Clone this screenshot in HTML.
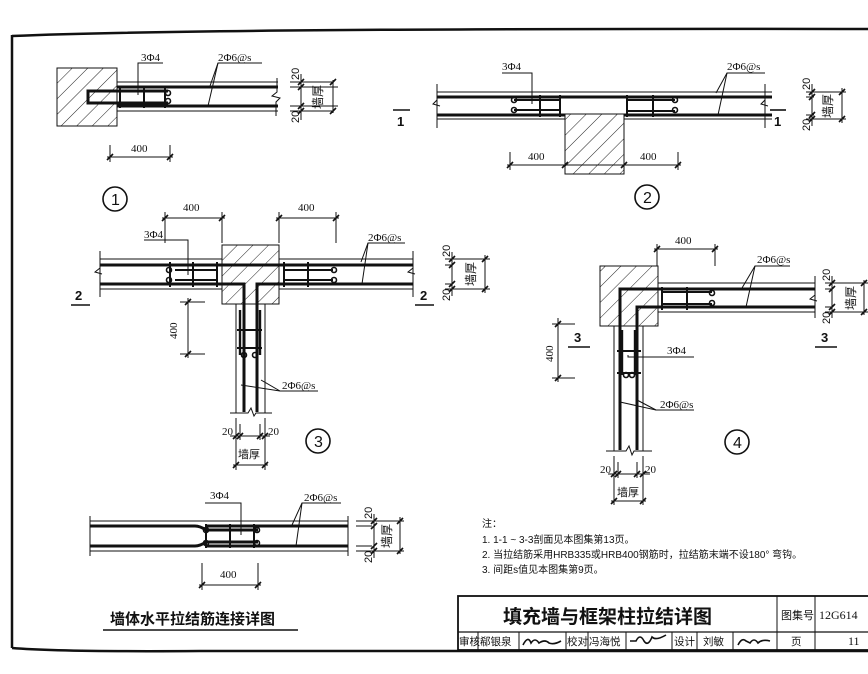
<!DOCTYPE html>
<html><head><meta charset="utf-8"><style>
html,body{margin:0;padding:0;background:#fff;}
svg{display:block;}
text{font-family:"Liberation Sans","Noto Sans CJK SC",sans-serif;fill:#111;}
.s{font-family:"Liberation Serif","Noto Serif CJK SC",serif;}
</style></head><body>
<svg width="868" height="674" viewBox="0 0 868 674" xmlns="http://www.w3.org/2000/svg">
<defs>
<pattern id="h" width="11" height="11" patternUnits="userSpaceOnUse" patternTransform="rotate(45)">
<rect width="11" height="11" fill="#fff"/><line x1="0" y1="0" x2="0" y2="11" stroke="#222" stroke-width="1"/>
</pattern>
<g id="tk"><line x1="-3" y1="3" x2="3" y2="-3" stroke="#111" stroke-width="1.6"/></g>
</defs>
<path d="M12,36 Q200,28 868,29" fill="none" stroke="#111" stroke-width="2.5"/>
<line x1="12" y1="35" x2="12" y2="648" stroke="#111" stroke-width="2.5"/>
<path d="M12,648 Q60,652 200,651 L868,651" fill="none" stroke="#111" stroke-width="2.5"/>

<g stroke="#111" fill="none" stroke-width="1">
<!-- Detail 1 -->
<rect x="57" y="68" width="60" height="58" fill="url(#h)"/>
<line x1="117" y1="82" x2="278" y2="82"/><line x1="117" y1="111" x2="278" y2="111"/>
<line x1="117" y1="87" x2="278" y2="87" stroke-width="3"/><line x1="117" y1="106" x2="278" y2="106" stroke-width="3"/>
<path d="M117,91 H88 V103 H168" stroke-width="3"/><line x1="117" y1="91" x2="168" y2="91" stroke-width="3"/>
<line x1="120" y1="86" x2="120" y2="108" stroke-width="2"/><line x1="144" y1="86" x2="144" y2="108" stroke-width="2"/><line x1="165" y1="86" x2="165" y2="108" stroke-width="2"/>
<circle cx="168" cy="93" r="2.5" stroke-width="1.6"/><circle cx="168" cy="101" r="2.5" stroke-width="1.6"/>
<path d="M277,78 V92 L272,96 L280,98 L276,102 V116"/>
<polyline points="138,95 138,63 163,63"/>
<polyline points="210,86 218,63 262,63"/><line x1="208" y1="106" x2="218" y2="63"/>
<line x1="110" y1="145" x2="110" y2="162"/><line x1="170" y1="145" x2="170" y2="162"/><line x1="107" y1="157" x2="173" y2="157"/>
<use href="#tk" x="110" y="157"/><use href="#tk" x="170" y="157"/>
<line x1="300" y1="82" x2="290" y2="82"/><line x1="300" y1="111" x2="290" y2="111"/><line x1="290" y1="87" x2="338" y2="87"/><line x1="290" y1="106" x2="338" y2="106"/>
<line x1="301" y1="74" x2="301" y2="120"/><line x1="333" y1="80" x2="333" y2="113"/><line x1="301" y1="82" x2="334" y2="82"/>
<line x1="301" y1="111" x2="334" y2="111"/>
<use href="#tk" x="301" y="82"/><use href="#tk" x="301" y="87"/><use href="#tk" x="301" y="106"/><use href="#tk" x="301" y="111"/><use href="#tk" x="333" y="82"/><use href="#tk" x="333" y="111"/>
<circle cx="115" cy="199" r="12" stroke-width="1.6"/>

<!-- Detail 2 -->
<line x1="437" y1="92" x2="772" y2="92"/><line x1="437" y1="119" x2="565" y2="119"/><line x1="624" y1="119" x2="772" y2="119"/>
<line x1="437" y1="97" x2="772" y2="97" stroke-width="3"/><line x1="437" y1="115" x2="772" y2="115" stroke-width="3"/>
<line x1="437" y1="84" x2="437" y2="128"/><line x1="765" y1="84" x2="765" y2="128"/>
<path d="M437,100 L433,104 L440,106"/><path d="M765,100 L761,104 L768,106"/>
<rect x="565" y="114" width="59" height="60" fill="url(#h)"/>
<path d="M514,100 H560 M514,110 H560" stroke-width="2"/>
<line x1="540" y1="95" x2="540" y2="117" stroke-width="2"/><line x1="560" y1="95" x2="560" y2="117" stroke-width="2"/>
<circle cx="514" cy="100" r="2.5" stroke-width="1.6"/><circle cx="514" cy="110" r="2.5" stroke-width="1.6"/>
<line x1="627" y1="95" x2="627" y2="117" stroke-width="2"/><line x1="653" y1="95" x2="653" y2="117" stroke-width="2"/>
<path d="M627,100 H675 M627,111 H675" stroke-width="2"/><circle cx="675" cy="100" r="2.5" stroke-width="1.6"/><circle cx="675" cy="110" r="2.5" stroke-width="1.6"/>
<polyline points="532,104 532,73 502,73"/>
<polyline points="716,93 727,73 765,73"/><line x1="718" y1="115" x2="727" y2="73"/>
<line x1="510" y1="152" x2="510" y2="170"/><line x1="678" y1="152" x2="678" y2="170"/><line x1="507" y1="165" x2="681" y2="165"/>
<use href="#tk" x="510" y="165"/><use href="#tk" x="565" y="165"/><use href="#tk" x="624" y="165"/><use href="#tk" x="678" y="165"/>
<line x1="393" y1="110" x2="410" y2="110" stroke-width="1.6"/><line x1="770" y1="110" x2="786" y2="110" stroke-width="1.6"/>
<line x1="806" y1="92" x2="846" y2="92"/><line x1="806" y1="119" x2="846" y2="119"/><line x1="806" y1="97" x2="814" y2="97"/><line x1="806" y1="115" x2="814" y2="115"/>
<line x1="812" y1="84" x2="812" y2="126"/><line x1="842" y1="88" x2="842" y2="123"/>
<use href="#tk" x="812" y="92"/><use href="#tk" x="812" y="97"/><use href="#tk" x="812" y="115"/><use href="#tk" x="812" y="119"/><use href="#tk" x="842" y="92"/><use href="#tk" x="842" y="119"/>
<circle cx="647" cy="197" r="12" stroke-width="1.6"/>

<!-- Detail 3 -->
<line x1="100" y1="259" x2="222" y2="259"/><line x1="279" y1="259" x2="413" y2="259"/>
<line x1="100" y1="289" x2="222" y2="289"/><line x1="279" y1="289" x2="413" y2="289"/>
<line x1="100" y1="251" x2="100" y2="297"/><line x1="413" y1="251" x2="413" y2="297"/>
<path d="M100,268 L95,272 L102,274"/><path d="M413,268 L408,272 L415,274"/>
<rect x="222" y="245" width="57" height="59" fill="url(#h)"/>
<line x1="100" y1="265" x2="413" y2="265" stroke-width="3"/>
<path d="M100,284 H244 V412 M413,284 H257 V412" stroke-width="3"/>
<path d="M236,304 V413 M265,304 V413"/>
<path d="M230,413 H248 L251,408 L254,416 L256,413 H272"/>
<line x1="175" y1="270" x2="217" y2="270" stroke-width="2"/><line x1="175" y1="280" x2="217" y2="280" stroke-width="2"/>
<line x1="170" y1="262" x2="170" y2="287" stroke-width="2"/><line x1="193" y1="262" x2="193" y2="287" stroke-width="2"/><line x1="217" y1="262" x2="217" y2="287" stroke-width="2"/>
<circle cx="169" cy="270" r="2.5" stroke-width="1.6"/><circle cx="169" cy="280" r="2.5" stroke-width="1.6"/>
<line x1="284" y1="270" x2="333" y2="270" stroke-width="2"/><line x1="284" y1="280" x2="333" y2="280" stroke-width="2"/>
<line x1="284" y1="262" x2="284" y2="287" stroke-width="2"/><line x1="308" y1="262" x2="308" y2="287" stroke-width="2"/>
<circle cx="334" cy="270" r="2.5" stroke-width="1.6"/><circle cx="334" cy="280" r="2.5" stroke-width="1.6"/>
<line x1="240" y1="310" x2="240" y2="355" stroke-width="2.4"/><line x1="260" y1="310" x2="260" y2="355" stroke-width="2.4"/>
<line x1="237" y1="330" x2="262" y2="330" stroke-width="2"/><line x1="237" y1="348" x2="262" y2="348" stroke-width="2"/>
<circle cx="244" cy="355" r="2.5" stroke-width="1.6"/><circle cx="255" cy="355" r="2.5" stroke-width="1.6"/>
<polyline points="188,275 188,240 144,240"/>
<polyline points="361,262 368,243 405,243"/><line x1="362" y1="284" x2="368" y2="243"/>
<polyline points="241,385 280,391 318,391"/><line x1="261" y1="380" x2="280" y2="391"/>
<line x1="165" y1="212" x2="165" y2="243"/><line x1="222" y1="212" x2="222" y2="243"/><line x1="162" y1="218" x2="225" y2="218"/>
<line x1="279" y1="212" x2="279" y2="243"/><line x1="336" y1="212" x2="336" y2="243"/><line x1="276" y1="218" x2="339" y2="218"/>
<use href="#tk" x="165" y="218"/><use href="#tk" x="222" y="218"/><use href="#tk" x="279" y="218"/><use href="#tk" x="336" y="218"/>
<line x1="180" y1="302" x2="205" y2="302"/><line x1="180" y1="354" x2="205" y2="354"/><line x1="188" y1="298" x2="188" y2="358"/>
<use href="#tk" x="188" y="302"/><use href="#tk" x="188" y="354"/>
<line x1="71" y1="305" x2="90" y2="305" stroke-width="1.6"/><line x1="415" y1="305" x2="434" y2="305" stroke-width="1.6"/>
<line x1="445" y1="259" x2="490" y2="259"/><line x1="445" y1="289" x2="490" y2="289"/><line x1="445" y1="265" x2="452" y2="265"/><line x1="445" y1="284" x2="452" y2="284"/>
<line x1="452" y1="252" x2="452" y2="296"/><line x1="485" y1="255" x2="485" y2="293"/>
<use href="#tk" x="452" y="259"/><use href="#tk" x="452" y="265"/><use href="#tk" x="452" y="284"/><use href="#tk" x="452" y="289"/><use href="#tk" x="485" y="259"/><use href="#tk" x="485" y="289"/>
<line x1="236" y1="418" x2="236" y2="470"/><line x1="265" y1="418" x2="265" y2="470"/><line x1="240" y1="424" x2="240" y2="440"/><line x1="260" y1="424" x2="260" y2="440"/>
<line x1="230" y1="436" x2="270" y2="436"/><line x1="233" y1="465" x2="268" y2="465"/>
<use href="#tk" x="236" y="436"/><use href="#tk" x="240" y="436"/><use href="#tk" x="260" y="436"/><use href="#tk" x="265" y="436"/><use href="#tk" x="236" y="465"/><use href="#tk" x="265" y="465"/>
<circle cx="318" cy="441" r="12" stroke-width="1.6"/>

<!-- Detail 4 -->
<rect x="600" y="266" width="58" height="60" fill="url(#h)"/>
<line x1="658" y1="283" x2="815" y2="283"/><line x1="658" y1="312" x2="815" y2="312"/>
<line x1="815" y1="276" x2="815" y2="318"/><path d="M815,295 L810,299 L817,301"/>
<path d="M815,289 H620 V450" stroke-width="3"/><path d="M815,307 H637 V450" stroke-width="3"/>
<path d="M614,326 V451 M643,326 V451"/>
<path d="M606,451 H626 L629,446 L632,455 L634,451 H652"/>
<line x1="661" y1="292" x2="712" y2="292" stroke-width="2"/><line x1="661" y1="304" x2="712" y2="304" stroke-width="2"/>
<line x1="662" y1="287" x2="662" y2="310" stroke-width="2"/><line x1="687" y1="287" x2="687" y2="310" stroke-width="2"/>
<circle cx="712" cy="293" r="2.5" stroke-width="1.6"/><circle cx="712" cy="303" r="2.5" stroke-width="1.6"/>
<line x1="622" y1="330" x2="622" y2="375" stroke-width="2.4"/><line x1="635" y1="330" x2="635" y2="375" stroke-width="2.4"/>
<line x1="617" y1="351" x2="641" y2="351" stroke-width="2"/><line x1="617" y1="373" x2="641" y2="373" stroke-width="2"/>
<circle cx="626" cy="375" r="2.5" stroke-width="1.6"/><circle cx="632" cy="375" r="2.5" stroke-width="1.6"/>
<polyline points="628,355 628,357 694,357"/>
<polyline points="620,402 656,410 694,410"/><line x1="637" y1="400" x2="656" y2="410"/>
<polyline points="742,288 755,266 790,266"/><line x1="746" y1="307" x2="755" y2="266"/>
<line x1="657" y1="244" x2="657" y2="266"/><line x1="715" y1="244" x2="715" y2="266"/><line x1="654" y1="249" x2="718" y2="249"/>
<use href="#tk" x="657" y="249"/><use href="#tk" x="715" y="249"/>
<line x1="552" y1="324" x2="575" y2="324"/><line x1="552" y1="378" x2="575" y2="378"/><line x1="558" y1="318" x2="558" y2="382"/>
<use href="#tk" x="558" y="324"/><use href="#tk" x="558" y="378"/>
<line x1="568" y1="347" x2="590" y2="347" stroke-width="1.6"/><line x1="815" y1="347" x2="837" y2="347" stroke-width="1.6"/>
<line x1="825" y1="283" x2="868" y2="283"/><line x1="825" y1="312" x2="868" y2="312"/><line x1="825" y1="289" x2="832" y2="289"/><line x1="825" y1="307" x2="832" y2="307"/>
<line x1="832" y1="276" x2="832" y2="318"/><line x1="864" y1="280" x2="864" y2="315"/>
<use href="#tk" x="832" y="283"/><use href="#tk" x="832" y="289"/><use href="#tk" x="832" y="307"/><use href="#tk" x="832" y="312"/><use href="#tk" x="864" y="283"/><use href="#tk" x="864" y="312"/>
<line x1="614" y1="456" x2="614" y2="505"/><line x1="643" y1="456" x2="643" y2="505"/><line x1="618" y1="462" x2="618" y2="478"/><line x1="637" y1="462" x2="637" y2="478"/>
<line x1="608" y1="474" x2="650" y2="474"/><line x1="611" y1="501" x2="646" y2="501"/>
<use href="#tk" x="614" y="474"/><use href="#tk" x="618" y="474"/><use href="#tk" x="637" y="474"/><use href="#tk" x="643" y="474"/><use href="#tk" x="614" y="501"/><use href="#tk" x="643" y="501"/>
<circle cx="737" cy="442" r="12" stroke-width="1.6"/>

<!-- Detail 5 -->
<line x1="90" y1="521" x2="348" y2="521"/><line x1="90" y1="551" x2="348" y2="551"/>
<line x1="90" y1="516" x2="90" y2="556"/><line x1="348" y1="516" x2="348" y2="556"/>
<path d="M90,526 H195 Q200,526 206,530 H258" stroke-width="3"/><path d="M90,546 H195 Q200,546 206,542 H258" stroke-width="3"/>
<path d="M206,526 H348" stroke-width="3"/><path d="M206,546 H348" stroke-width="3"/>
<line x1="206" y1="524" x2="206" y2="548" stroke-width="2"/><line x1="230" y1="524" x2="230" y2="548" stroke-width="2"/><line x1="254" y1="524" x2="254" y2="548" stroke-width="2"/>
<circle cx="206" cy="530" r="2.5" stroke-width="1.6"/><circle cx="206" cy="543" r="2.5" stroke-width="1.6"/><circle cx="257" cy="530" r="2.5" stroke-width="1.6"/><circle cx="257" cy="543" r="2.5" stroke-width="1.6"/>
<polyline points="241,535 241,503 205,503"/>
<polyline points="292,525 302,503 341,503"/><line x1="296" y1="546" x2="302" y2="503"/>
<line x1="202" y1="563" x2="202" y2="590"/><line x1="258" y1="563" x2="258" y2="590"/><line x1="199" y1="585" x2="261" y2="585"/>
<use href="#tk" x="202" y="585"/><use href="#tk" x="258" y="585"/>
<line x1="356" y1="521" x2="404" y2="521"/><line x1="356" y1="551" x2="404" y2="551"/><line x1="356" y1="526" x2="372" y2="526"/><line x1="356" y1="546" x2="372" y2="546"/>
<line x1="374" y1="514" x2="374" y2="558"/><line x1="400" y1="517" x2="400" y2="554"/>
<use href="#tk" x="374" y="521"/><use href="#tk" x="374" y="526"/><use href="#tk" x="374" y="546"/><use href="#tk" x="374" y="551"/><use href="#tk" x="400" y="521"/><use href="#tk" x="400" y="551"/>
<line x1="103" y1="630" x2="298" y2="630" stroke-width="1.6"/>

<!-- title block -->
<rect x="458" y="596" width="412" height="54" stroke-width="1.8"/>
<line x1="458" y1="632" x2="868" y2="632" stroke-width="1.2"/>
<line x1="777" y1="596" x2="777" y2="650"/><line x1="815" y1="596" x2="815" y2="650"/>
<line x1="478" y1="632" x2="478" y2="650"/><line x1="519" y1="632" x2="519" y2="650"/><line x1="566" y1="632" x2="566" y2="650"/><line x1="588" y1="632" x2="588" y2="650"/><line x1="626" y1="632" x2="626" y2="650"/><line x1="672" y1="632" x2="672" y2="650"/><line x1="697" y1="632" x2="697" y2="650"/><line x1="733" y1="632" x2="733" y2="650"/>
<path d="M523,645 q5,-10 8,-2 q4,-6 8,0 q6,-4 10,0 q5,2 12,-2" stroke-width="1.6"/>
<path d="M630,641 h6 q4,-8 8,0 q4,6 8,-4 q4,4 14,-2" stroke-width="1.6"/>
<path d="M738,645 q4,-8 8,-4 l4,2 q4,-6 8,0 q4,-4 12,-2" stroke-width="1.6"/>
</g>

<g font-size="11" class="s">
<text x="141" y="61" class="s">3Φ4</text><text x="218" y="61" class="s">2Φ6@s</text>
<text x="131" y="152" class="s">400</text>
<text x="502" y="70" class="s">3Φ4</text><text x="727" y="70" class="s">2Φ6@s</text>
<text x="528" y="160" class="s">400</text><text x="640" y="160" class="s">400</text>
<text x="183" y="211" class="s">400</text><text x="298" y="211" class="s">400</text>
<text x="144" y="238" class="s">3Φ4</text><text x="368" y="241" class="s">2Φ6@s</text>
<text x="282" y="389" class="s">2Φ6@s</text>
<text x="675" y="244" class="s">400</text><text x="757" y="263" class="s">2Φ6@s</text>
<text x="667" y="354" class="s">3Φ4</text><text x="660" y="408" class="s">2Φ6@s</text>
<text x="210" y="499" class="s">3Φ4</text><text x="304" y="501" class="s">2Φ6@s</text>
<text x="220" y="578" class="s">400</text>
<text x="222" y="435" class="s">20</text><text x="268" y="435" class="s">20</text>
<text x="600" y="473" class="s">20</text><text x="645" y="473" class="s">20</text>
<text transform="translate(177,339) rotate(-90)" class="s">400</text>
<text transform="translate(553,362) rotate(-90)" class="s">400</text>
</g>
<g font-size="11" class="s">
<text transform="translate(299,80) rotate(-90)">20</text><text transform="translate(299,123) rotate(-90)">20</text>
<text transform="translate(810,90) rotate(-90)">20</text><text transform="translate(810,131) rotate(-90)">20</text>
<text transform="translate(450,257) rotate(-90)">20</text><text transform="translate(450,301) rotate(-90)">20</text>
<text transform="translate(830,281) rotate(-90)">20</text><text transform="translate(830,324) rotate(-90)">20</text>
<text transform="translate(372,519) rotate(-90)">20</text><text transform="translate(372,563) rotate(-90)">20</text>
</g>
<g font-size="12" text-anchor="middle">
<text transform="translate(322,97) rotate(-90)">墙厚</text>
<text transform="translate(832,106) rotate(-90)">墙厚</text>
<text transform="translate(475,274) rotate(-90)">墙厚</text>
<text transform="translate(855,298) rotate(-90)">墙厚</text>
<text transform="translate(391,536) rotate(-90)">墙厚</text>
</g>
<g font-size="11">
<text x="238" y="458">墙厚</text><text x="617" y="496">墙厚</text>
</g>
<g font-size="16">
<text x="111" y="205">1</text><text x="643" y="203">2</text><text x="314" y="447">3</text><text x="733" y="448">4</text>
</g>
<g font-size="13" font-weight="bold">
<text x="397" y="126">1</text><text x="774" y="126">1</text>
<text x="75" y="300">2</text><text x="420" y="300">2</text>
<text x="574" y="342">3</text><text x="821" y="342">3</text>
</g>
<text x="110" y="624" font-size="15" font-weight="bold">墙体水平拉结筋连接详图</text>
<g font-size="10">
<text x="482" y="527">注：</text>
<text x="482" y="543">1.  1-1 ~ 3-3剖面见本图集第13页。</text>
<text x="482" y="558">2.  当拉结筋采用HRB335或HRB400钢筋时，拉结筋末端不设180°  弯钩。</text>
<text x="482" y="573">3.  间距s值见本图集第9页。</text>
</g>
<text x="503" y="623" font-size="19" font-weight="bold">填充墙与框架柱拉结详图</text>
<text x="781" y="619" font-size="11">图集号</text>
<text x="819" y="619" font-size="12" class="s">12G614</text>
<g font-size="10.5">
<text x="459" y="645">审核</text><text x="480" y="645">郗银泉</text><text x="567" y="645">校对</text><text x="589" y="645">冯海悦</text>
<text x="674" y="645">设计</text><text x="703" y="645">刘敏</text><text x="791" y="645">页</text>
<text x="848" y="645" class="s" font-size="12">11</text>
</g>
</svg>
</body></html>
